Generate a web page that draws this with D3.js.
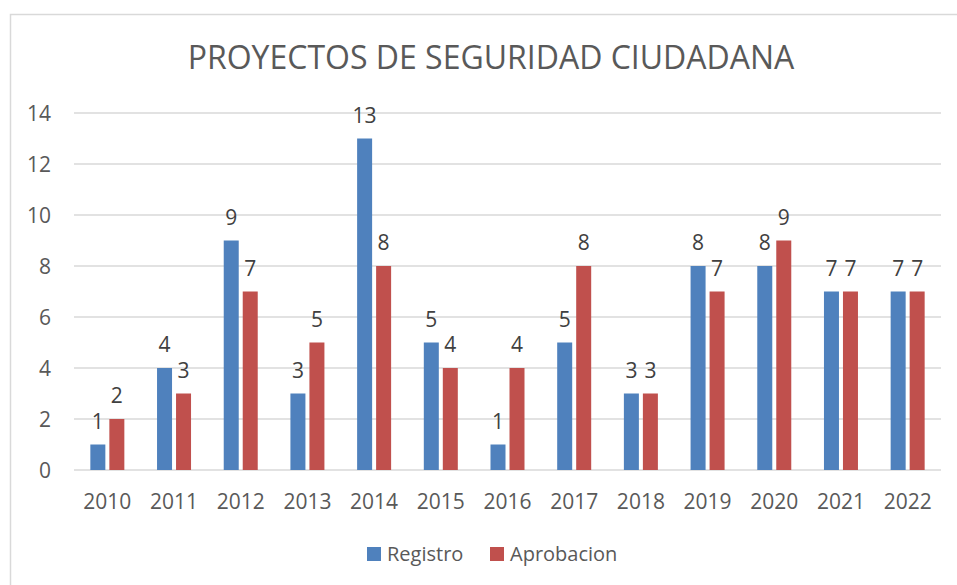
<!DOCTYPE html>
<html><head><meta charset="utf-8">
<script src="https://cdn.jsdelivr.net/npm/d3@7"></script>
<style>body{margin:0;background:#fff}svg{display:block}</style>
</head><body>
<script>
const years = ["2010","2011","2012","2013","2014","2015","2016","2017","2018","2019","2020","2021","2022"];
const registro = [1,4,9,3,13,5,1,5,3,8,8,7,7];
const aprobacion = [2,3,7,5,8,4,4,8,3,7,9,7,7];
const seriesNames = ["Registro","Aprobacion"];
const seriesColors = ["#4F81BD","#C0504D"];
const yTicks = [0,2,4,6,8,10,12,14];
const title = "PROYECTOS DE SEGURIDAD CIUDADANA";

const W=957,H=585;
const font="'Open Sans', 'Liberation Sans', sans-serif";
const txt="#595959";
const svg=d3.select("body").append("svg").attr("width",W).attr("height",H);
svg.append("rect").attr("x",10.5).attr("y",14.5).attr("width",980).attr("height",600)
  .attr("fill","#fff").attr("stroke","#d9d9d9").attr("stroke-width",1.5);

svg.append("text").attr("x",491).attr("y",69).attr("text-anchor","middle")
  .attr("font-family",font).attr("font-size",32).attr("fill",txt).text(title);

const x=d3.scaleBand().domain(years).range([74,941]);
const y=d3.scaleLinear().domain([0,14]).range([470,113]);

const g=svg.append("g");
g.selectAll("line.grid").data(yTicks).join("line").attr("class","grid")
  .attr("x1",74).attr("x2",941).attr("y1",d=>y(d)).attr("y2",d=>y(d))
  .attr("stroke","#d9d9d9").attr("stroke-width",1.5);

const yAxis=d3.axisLeft(y).tickValues(yTicks).tickSize(0).tickPadding(0);
const ya=svg.append("g").attr("transform","translate(51,0)").call(yAxis);
ya.select(".domain").remove();
ya.selectAll("text").attr("font-family",font).attr("font-size",21).attr("fill",txt).attr("dy","0.36em");

const xAxis=d3.axisBottom(x).tickSize(0).tickPadding(0);
const xa=svg.append("g").attr("transform","translate(0,509)").call(xAxis);
xa.select(".domain").remove();
xa.selectAll("text").attr("font-family",font).attr("font-size",21).attr("fill",txt).attr("dy",0);

const bw=15, gap=4;
const data=[registro,aprobacion];
data.forEach((vals,si)=>{
  const off = si===0 ? -gap/2-bw : gap/2;
  const sel=svg.append("g");
  sel.selectAll("rect").data(vals).join("rect")
    .attr("x",(d,i)=>x(years[i])+x.bandwidth()/2+off)
    .attr("width",bw)
    .attr("y",d=>y(d)).attr("height",d=>y(0)-y(d))
    .attr("fill",seriesColors[si]);
  sel.selectAll("text").data(vals).join("text")
    .attr("x",(d,i)=>x(years[i])+x.bandwidth()/2+off+bw/2)
    .attr("y",d=>y(d)-16).attr("text-anchor","middle")
    .attr("font-family",font).attr("font-size",21).attr("fill","#404040").text(d=>d);
});

const leg=[{x:367,tx:387},{x:490,tx:510}];
seriesNames.forEach((n,i)=>{
  svg.append("rect").attr("x",leg[i].x).attr("y",547).attr("width",14).attr("height",14).attr("fill",seriesColors[i]);
  svg.append("text").attr("x",leg[i].tx).attr("y",561).attr("font-family",font).attr("font-size",20).attr("fill",txt).text(n);
});
</script>
</body></html>
